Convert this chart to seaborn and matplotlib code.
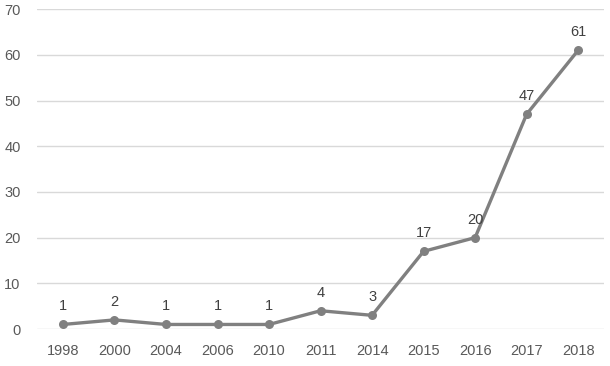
import matplotlib
matplotlib.use("Agg")
import matplotlib.pyplot as plt
import seaborn as sns
import pandas as pd

years = ["1998", "2000", "2004", "2006", "2010", "2011", "2014", "2015", "2016", "2017", "2018"]
counts = [1, 2, 1, 1, 1, 4, 3, 17, 20, 47, 61]
y_ticks = [0, 10, 20, 30, 40, 50, 60, 70]

sns.set_theme(style="white")
plt.rcParams['font.family'] = ['Liberation Sans', 'DejaVu Sans']

df = pd.DataFrame({"year": years, "count": counts})

fig = plt.figure(figsize=(6.1, 3.66), dpi=100)
ax = fig.add_axes([0.061, 0.101, 0.929, 0.874])

sns.lineplot(data=df, x="year", y="count", ax=ax, color="#808080", linewidth=2.4,
             marker="o", markersize=6.5, markeredgewidth=0, sort=False)

for i, v in enumerate(counts):
    ax.annotate(str(v), (i, v), xytext=(0, 8), textcoords="offset points",
                ha="center", va="bottom", fontsize=10.5, color="#404040")

ax.set_xlim(-0.5, len(years) - 0.5)
ax.set_ylim(0, 70)
ax.set_yticks(y_ticks)
ax.yaxis.grid(True, color="#d9d9d9", linewidth=1)
ax.set_axisbelow(True)
for s in ax.spines.values():
    s.set_visible(False)
ax.tick_params(axis="both", length=0, labelsize=10.5, labelcolor="#595959")
ax.tick_params(axis="x", pad=11)
ax.tick_params(axis="y", pad=12)
ax.set_xlabel("")
ax.set_ylabel("")

fig.savefig("out.png", dpi=100, facecolor="white")
